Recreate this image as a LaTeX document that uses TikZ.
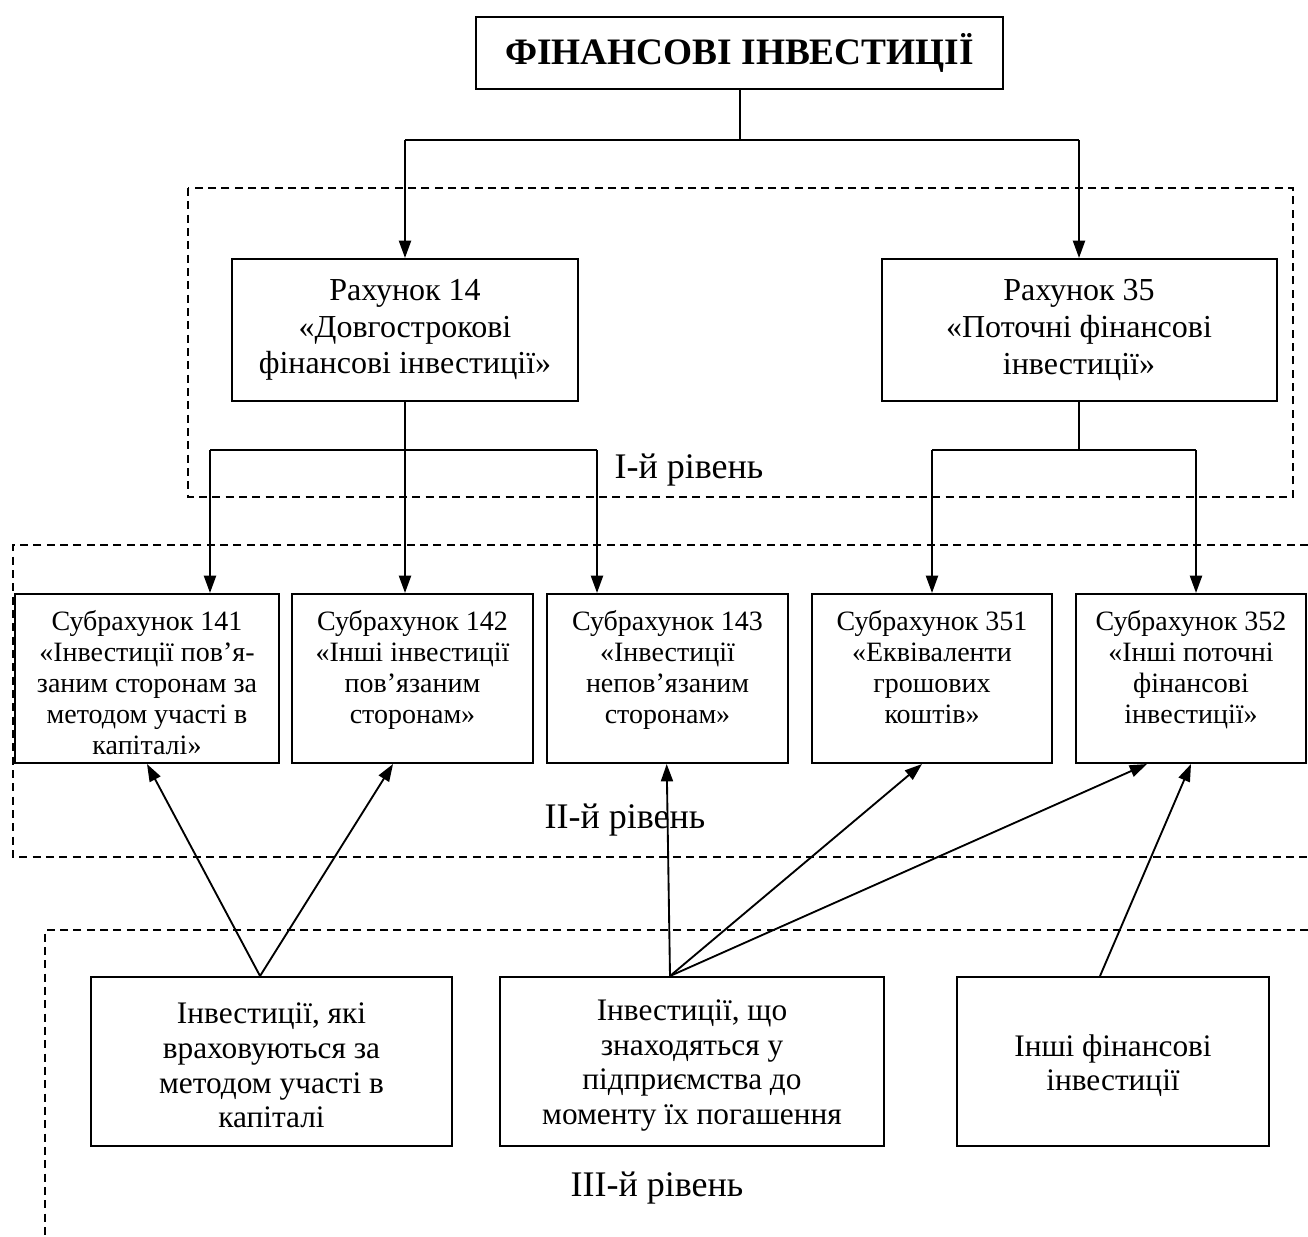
\documentclass[tikz,border=0pt]{standalone}
\usepackage{fontspec}
\setmainfont{Liberation Serif}
\usetikzlibrary{arrows.meta}
\tikzset{
  box/.style={draw, line width=1.5pt, inner sep=0pt, align=center},
  lvl/.style={line width=1.2pt, dash pattern=on 6pt off 4pt},
  conn/.style={line width=1.6pt},
  arr/.style={conn, -{Triangle[length=13pt,width=9pt]}},
  uparr/.style={line width=1.4pt, -{Triangle[length=13pt,width=9pt]}},
  lbl/.style={font=\fontsize{27}{32}\selectfont, inner sep=0pt},
}
\newcommand{\subtext}[3]{\parbox[c][#2][t]{#1}{\centering\fontsize{21}{23.4}\selectfont\vspace*{12pt}#3}}
\newcommand{\midtext}[2]{\parbox{#1}{\centering\fontsize{24}{27.5}\selectfont #2}}
\newcommand{\lowtext}[2]{\parbox{#1}{\centering\fontsize{23.5}{26}\selectfont\vspace*{6pt}#2}}
\begin{document}
\begin{tikzpicture}[x=0.75pt,y=-0.75pt]
\useasboundingbox (0,0) rectangle (1308,1236);
% level frames
\draw[lvl] (188,188) rectangle (1293,497);
\draw[lvl] (1308,545) -- (13,545) -- (13,857) -- (1308,857);
\draw[lvl] (1308,930) -- (45,930) -- (45,1236);
% title
\node[box, minimum width=395.25pt, minimum height=54pt,
      font=\fontsize{28}{32}\selectfont\bfseries] (fin) at (739.5,53) {ФІНАНСОВІ ІНВЕСТИЦІЇ};
% level I
\node[box, minimum width=259.5pt, minimum height=106.5pt, anchor=north] (r14) at (405,258)
  {\midtext{250pt}{Рахунок 14\\«Довгострокові\\фінансові інвестиції»}};
\node[box, minimum width=296.25pt, minimum height=106.5pt, anchor=north] (r35) at (1079,258)
  {\midtext{285pt}{Рахунок 35\\«Поточні фінансові\\інвестиції»}};
% level II
\node[box, anchor=north] (s141) at (147,593)
  {\subtext{198pt}{126.75pt}{Субрахунок 141\\«Інвестиції пов’я-\\заним сторонам за\\методом участі в\\капіталі»}};
\node[box, anchor=north] (s142) at (412.5,593)
  {\subtext{180.75pt}{126.75pt}{Субрахунок 142\\«Інші інвестиції\\пов’язаним\\сторонам»}};
\node[box, anchor=north] (s143) at (667.5,593)
  {\subtext{180.75pt}{126.75pt}{Субрахунок 143\\«Інвестиції\\непов’язаним\\сторонам»}};
\node[box, anchor=north] (s351) at (932,593)
  {\subtext{180pt}{126.75pt}{Субрахунок 351\\«Еквіваленти\\грошових\\коштів»}};
\node[box, anchor=north] (s352) at (1191,593)
  {\subtext{172.5pt}{126.75pt}{Субрахунок 352\\«Інші поточні\\фінансові\\інвестиції»}};
% level III
\node[box, minimum width=270.75pt, minimum height=126.75pt] (ia) at (271.5,1061.5)
  {\lowtext{265pt}{Інвестиції, які\\враховуються за\\методом участі в\\капіталі}};
\node[box, minimum width=288pt, minimum height=126.75pt] (ib) at (692,1061.5)
  {\lowtext{282pt}{Інвестиції, що\\знаходяться у\\підприємства до\\моменту їх погашення}};
\node[box, minimum width=234pt, minimum height=126.75pt] (ic) at (1113,1061.5)
  {\lowtext{228pt}{Інші фінансові\\інвестиції}};
% level labels
\node[lbl] (l1) at (689,470) {І-й рівень};
\node[lbl] (l2) at (625,820) {ІІ-й рівень};
\node[lbl] (l3) at (657,1188) {ІІІ-й рівень};
% connectors top
\coordinate (j0) at (740,140);
\coordinate (j1) at (403,450);
\draw[conn] (fin.south -| j0) -- (j0);
\draw[conn] (r14.north |- j0) -- (r35.north |- j0);
\draw[arr] (r14.north |- j0) -- (r14.north);
\draw[arr] (r35.north |- j0) -- (r35.north);
% from r14
\draw[arr] (r14.south) -- (r14.south |- s142.north);
\draw[conn] ([xshift=47.25pt]s141.north |- j1) -- ([xshift=-52.875pt]s143.north |- j1);
\draw[arr] ([xshift=47.25pt]s141.north |- j1) -- ([xshift=47.25pt]s141.north);
\draw[arr] ([xshift=-52.875pt]s143.north |- j1) -- ([xshift=-52.875pt]s143.north);
% from r35
\draw[conn] (r35.south) -- (r35.south |- j1);
\draw[conn] (s351.north |- j1) -- ([xshift=3.75pt]s352.north |- j1);
\draw[arr] (s351.north |- j1) -- (s351.north);
\draw[arr] ([xshift=3.75pt]s352.north |- j1) -- ([xshift=3.75pt]s352.north);
% upward arrows
\draw[uparr] ([xshift=-8.6pt]ia.north) -- (s141.south);
\draw[uparr] ([xshift=-8.6pt]ia.north) -- ([xshift=-14.6pt]s142.south);
\draw[uparr] ([xshift=-16.5pt]ib.north) -- ([xshift=-0.6pt]s143.south);
\draw[uparr] ([xshift=-16.5pt]ib.north) -- ([xshift=-7.5pt]s351.south);
\draw[uparr] ([xshift=-16.5pt]ib.north) -- ([xshift=-33pt]s352.south);
\draw[uparr] ([xshift=-9.75pt]ic.north) -- (s352.south);
\end{tikzpicture}
\end{document}
